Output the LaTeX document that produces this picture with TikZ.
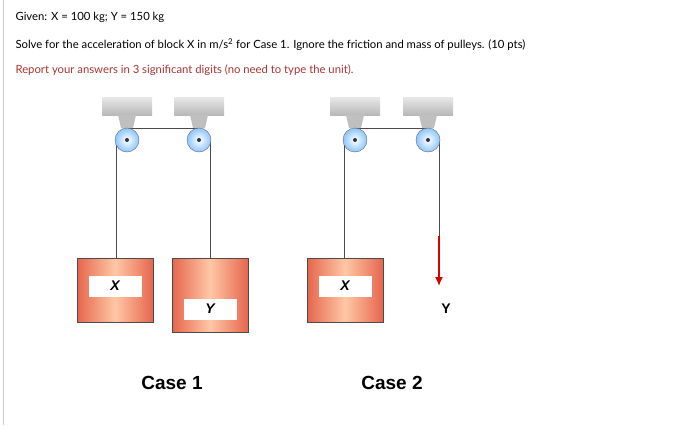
\documentclass[tikz,border=0pt]{standalone}
\usepackage{fontspec}
\setmainfont{Lato}
\setsansfont{Liberation Sans}
\usetikzlibrary{arrows.meta}
\begin{document}
\begin{tikzpicture}[x=1pt,y=-1pt,
  txt/.style={anchor=west,font=\fontsize{11.3}{13}\selectfont},
  ceil/.style={top color=gray!20,bottom color=gray!55,draw=none},
  block/.style={left color=red!50!brown!80,right color=red!50!brown!80,middle color=red!25!orange!35!white,draw=black!70,line width=0.6pt},
  lab/.style={fill=white,font=\fontsize{14}{16}\sffamily\bfseries\itshape\selectfont,inner sep=0pt,minimum width=53pt,minimum height=21pt},
  rope/.style={draw=black!70,line width=0.7pt},
  pul/.style={circle,draw=black!60,inner color=white,outer color=cyan!50!blue!45,minimum size=24pt,inner sep=0pt}]
\useasboundingbox (0,0) rectangle (700,425);
\fill[white] (0,0) rectangle (700,425);
\draw[gray!40] (3,0) -- (3,425);
\node[txt] (t1) at (12,17) {Given: X = 100 kg; Y = 150 kg};
\node[txt] (t2) at (12,45) {Solve for the acceleration of block X in m/s\textsuperscript{2} for Case 1. Ignore the friction and mass of pulleys. (10 pts)};
\node[txt,text=red!60!black!80] (t3) at (12,70) {Report your answers in 3 significant digits (no need to type the unit).};
\foreach \cx/\n in {127/a,199/b,355/c,428/d}{
  \fill[ceil] (\cx-25,98) rectangle (\cx+25,115);
  \fill[gray!50] (\cx-9,115) -- (\cx+9,115) -- (\cx+6,128) -- (\cx-6,128) -- cycle;
}
\draw[rope] (127,128) -- (199,128);
\draw[rope] (355,128) -- (428,128);
\draw[rope] (116,140) -- (116,258);
\draw[rope] (210,140) -- (210,258);
\draw[rope] (344,140) -- (344,258);
\draw[rope] (439,140) -- (439,236);
\foreach \cx/\n in {127/a,199/b,355/c,428/d}{
  \node[pul] (p\n) at (\cx,140) {};
  \fill[black!80] (p\n) circle (2pt);
}
\draw[block] (77,258) rectangle (153,322);
\node[lab] (x1) at (115,286) {X};
\draw[block] (172,258) rectangle (248,332);
\node[lab] (y1) at (210,309) {Y};
\draw[block] (307,258) rectangle (383,322);
\node[lab] (x2) at (345,286) {X};
\draw[red!85!black,line width=1.4pt,-{Latex[length=9pt,width=8pt]}] (439,236) -- (439,286);
\node[font=\fontsize{14}{16}\sffamily\bfseries\selectfont] (y2) at (446,309) {Y};
\node[font=\fontsize{19}{22}\sffamily\bfseries\selectfont] (c1) at (172,383) {Case 1};
\node[font=\fontsize{19}{22}\sffamily\bfseries\selectfont] (c2) at (392,383) {Case 2};
\end{tikzpicture}
\end{document}
